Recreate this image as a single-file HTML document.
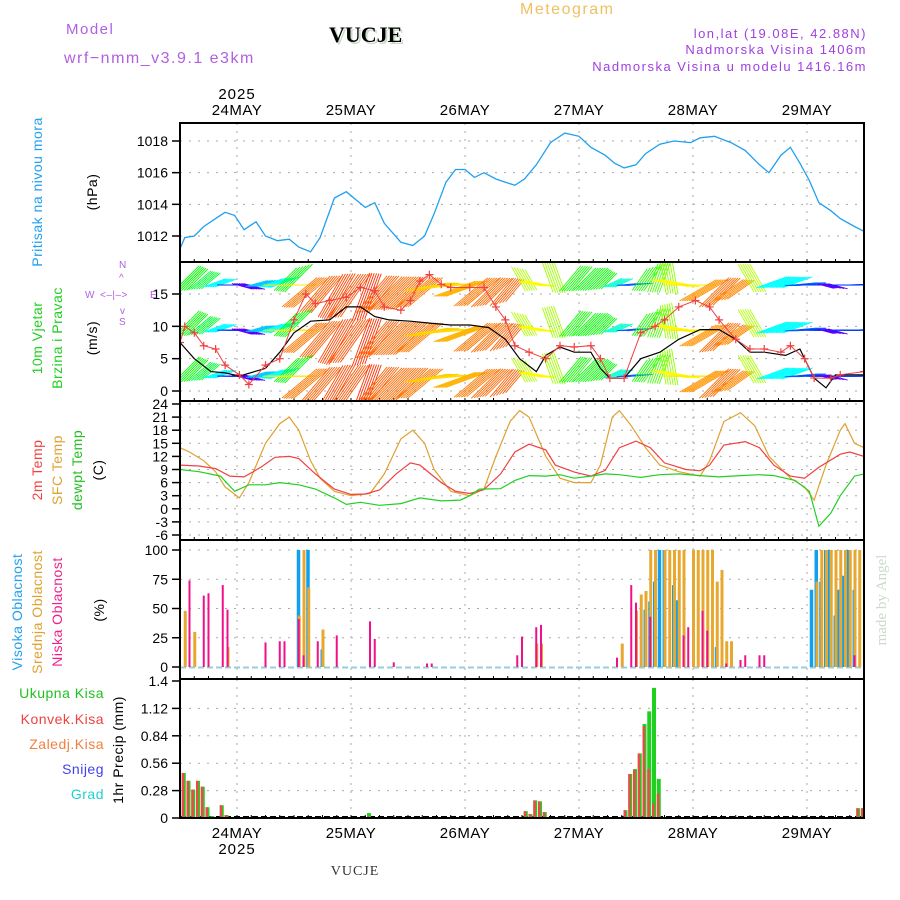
<!DOCTYPE html>
<html><head><meta charset="utf-8"><style>
html,body{margin:0;padding:0;background:#fff;}
svg{display:block;font-family:"Liberation Sans",sans-serif;}
</style></head><body>
<svg id="chart" width="900" height="900" viewBox="0 0 900 900" xmlns="http://www.w3.org/2000/svg">
<g font-size="15" letter-spacing="1.5">
<text x="66" y="34" fill="#b060e0">Model</text>
<text x="64" y="63" fill="#b060e0" font-size="16">wrf−nmm_v3.9.1 e3km</text>
<text x="331" y="44" font-family="Liberation Serif,serif" font-weight="bold" font-size="22" fill="#c8dcc8" letter-spacing="0">VUCJE</text>
<text x="329" y="42" font-family="Liberation Serif,serif" font-weight="bold" font-size="22" fill="#000" letter-spacing="0">VUCJE</text>
<text x="520" y="14" fill="#f0c060" font-size="16">Meteogram</text>
<text x="867" y="38" fill="#a040e0" text-anchor="end" font-size="13">lon,lat (19.08E, 42.88N)</text>
<text x="867" y="54" fill="#a040e0" text-anchor="end" font-size="13">Nadmorska Visina 1406m</text>
<text x="867" y="71" fill="#a040e0" text-anchor="end" font-size="13">Nadmorska Visina u modelu 1416.16m</text>
</g>
<g id="plots"></g>
<g font-size="14" letter-spacing="0.5">
<text transform="translate(42,192) rotate(-90)" text-anchor="middle" fill="#20a0f0">Pritisak na nivou mora</text>
<text transform="translate(97,192) rotate(-90)" text-anchor="middle" fill="#000">(hPa)</text>
<text transform="translate(42,338) rotate(-90)" text-anchor="middle" fill="#20d020">10m Vjetar</text>
<text transform="translate(62,338) rotate(-90)" text-anchor="middle" fill="#20d020">Brzina i Pravac</text>
<text transform="translate(97,338) rotate(-90)" text-anchor="middle" fill="#000">(m/s)</text>
<g fill="#b060e0" font-size="10">
<text x="119" y="268">N</text><text x="85" y="298">W</text><text x="150" y="298">E</text><text x="119" y="325">S</text>
<text x="100" y="298">&lt;–|–&gt;</text>
<text x="119" y="281">^</text><text x="120" y="314">v</text>
</g>
<text transform="translate(42,470) rotate(-90)" text-anchor="middle" fill="#f04040">2m Temp</text>
<text transform="translate(62,470) rotate(-90)" text-anchor="middle" fill="#e0a030">SFC Temp</text>
<text transform="translate(82,470) rotate(-90)" text-anchor="middle" fill="#20c020">dewpt Temp</text>
<text transform="translate(103,470) rotate(-90)" text-anchor="middle" fill="#000">(C)</text>
<text transform="translate(22,612) rotate(-90)" text-anchor="middle" fill="#20a0f0">Visoka Oblacnost</text>
<text transform="translate(42,612) rotate(-90)" text-anchor="middle" fill="#e0a030">Srednja Oblacnost</text>
<text transform="translate(62,612) rotate(-90)" text-anchor="middle" fill="#f0208a">Niska Oblacnost</text>
<text transform="translate(104,610) rotate(-90)" text-anchor="middle" fill="#000">(%)</text>
<text x="104" y="698" text-anchor="end" fill="#20c020">Ukupna Kisa</text>
<text x="104" y="724" text-anchor="end" fill="#f04040">Konvek.Kisa</text>
<text x="104" y="749" text-anchor="end" fill="#f08040">Zaledj.Kisa</text>
<text x="104" y="774" text-anchor="end" fill="#4040f0">Snijeg</text>
<text x="104" y="799" text-anchor="end" fill="#20d0d0">Grad</text>
<text transform="translate(123,750) rotate(-90)" text-anchor="middle" fill="#000">1hr Precip (mm)</text>
</g>
<text transform="translate(886,600) rotate(-90)" text-anchor="middle" font-family="Liberation Serif,serif" font-size="15" fill="#c8dcc8">made by Angel</text>
<text x="355" y="875" text-anchor="middle" font-family="Liberation Serif,serif" font-size="14" fill="#333" letter-spacing="1">VUCJE</text>
</svg>
<script>
const days = ["24MAY","25MAY","26MAY","27MAY","28MAY","29MAY"];
const dayHours = [12,36,60,84,108,132];
const pHours = [0,1,3,5,7.5,9.5,11.5,13.5,16,18,20.5,23,25,27.5,29.5,32.5,35,37,39,41,43,46.5,49,51.5,53.5,56,58,60,62,64,66.5,68.5,70.5,72.5,75,78,81,84,86.5,89.5,91.5,93.5,96,98,101,104,107.5,109.5,112.5,116,119,122,124,126.5,128.5,130.5,132.5,134.5,137,139,142,144];
const pVals = [1011.2,1011.9,1012.0,1012.6,1013.1,1013.5,1013.3,1012.4,1012.9,1012.0,1011.7,1011.8,1011.3,1011.0,1011.9,1014.4,1014.8,1014.3,1013.8,1014.1,1012.8,1011.6,1011.4,1012.0,1013.4,1015.4,1016.2,1016.2,1015.7,1016.0,1015.6,1015.4,1015.2,1015.6,1016.5,1017.9,1018.5,1018.3,1017.6,1017.1,1016.6,1016.3,1016.5,1017.2,1017.8,1018.0,1017.9,1018.2,1018.3,1017.9,1017.4,1016.5,1016.0,1017.1,1017.6,1016.6,1015.5,1014.1,1013.6,1013.1,1012.6,1012.3];
const pTicks = [1012,1014,1016,1018];
const gustHours = [0,1,3,5,7.5,9.5,12.5,14.5,18,21,24,26.5,28.5,31.5,35,38,41,43,46.5,48.5,50.5,52.5,55,57,61,64,66.5,68.5,70.5,73.5,77,80,83,86.5,88.5,90.5,93.5,97,100,102,105,108.5,111.5,113.5,117,120,123,126.5,128.5,131.5,133.5,137,139,144];
const gustVals = [7.5,10,9,7,6.5,4,2.5,1,4,5,11,15,13.5,14,14.5,16,15.5,13,12.5,14,17,18,16.5,16,16,16,13,11,7,6,5,7,6.8,7,5,2,2,9,10,11,13,14,13,11,8,6.5,6.5,6,7,5,2,2,2.5,3];
const wsHours = [0,3,6.5,9.5,12.5,18,21,24,27.5,31.5,35,38,41,44,48.5,52.5,57,61,65,68.5,71.5,75,77,80,83,86.5,88.5,90.5,93.5,97,101,105,109.5,113.5,117,120,123,127.5,130.5,133.5,136,138,141,144];
const wsVals = [7.5,5,3,2.8,2.3,3.5,6,9,10.8,11,13,13,11.5,11,10.8,10.5,10.2,10.2,9.8,8,5,3,5.5,6.8,6,6,3.5,2,2,5,6,8,9.5,9.5,8,6,6,5.5,6.5,2,0.5,2.5,2.5,2.5];
const wdHours = [0,3,6,9,12,15,18,21,24,27,30,33,36,39,42,45,48,51,54,57,60,63,66,69,72,75,78,81,84,87,90,93,96,99,102,105,108,111,114,117,120,123,126,129,132,135,138,141,144];
const wdVals = [225,230,250,270,285,255,250,225,90,50,40,30,35,20,40,45,45,50,80,85,70,50,45,40,150,100,160,220,225,225,245,265,215,200,170,100,90,60,45,55,150,250,250,265,270,285,270,268,270];
const windTicks = [0,5,10,15];
const tHours = [0,4,7.5,10.5,13.5,17,20,23,25,28.5,32.5,36,39,42,45.5,48.5,50.5,55,58,61,64,67.5,70.5,73.5,77,79,83,86.5,89.5,92.5,96,99,102,106.5,109.5,111.5,114.5,119,122,125,128.5,131.5,134.5,139,141,144];
const tVals = [10,9.8,9.2,7.5,7.3,9.5,11.8,12,11.5,8,4.5,3.3,3.4,4.3,8,10.5,10,6,4,3.5,4.4,8,13,14.8,13.5,10,8.4,7.5,8.8,14,15.5,14,10.5,9,8.7,10,14.6,15.4,14,10,7.5,7,9.5,12.5,13,12];
const sHours = [0,2,5,7.5,9.5,12.5,14.5,18,21,23,25,27.5,29.5,32.5,36,40,43,46.5,49,51.5,53.5,57,61,64,66.5,69.5,71.5,73.5,77,80,83,86.5,88.5,91,92.5,95,98,101,105,109.5,111.5,114.5,118,121,124,128.5,131.5,133.5,136,139,140,142,144];
const sVals = [14,13,11,8.5,5,2.5,6,15,19.5,21,18,11,7,4,3,3.5,8,16,18,15,9,4,3,4.5,12,20,22.5,21,12,7,6,6,10,21,22.5,19,14,10,8.5,7.5,11,20,22,19,12,7,5,2,10,18,19.5,15,14];
const dHours = [0,4,8.5,11.5,14.5,18,21,25,28.5,32.5,35,38,42,46.5,50.5,55,59,61,63,67.5,70.5,73.5,77,80,83,86.5,89.5,92.5,97,101,105,109.5,113.5,118,122,125,129.5,132.5,134.5,137,139,142,144];
const dVals = [9,8.5,7.5,4,5.5,5.5,6,5.5,4.5,2.5,1,1.5,0.8,1.2,2.5,1.8,2,3,4.5,4.6,6.5,7.6,7.5,7.8,7,7.5,8,7.8,7.2,7.8,8,7.6,7.3,7.6,7.8,7.6,6.5,4,-4,-1,3,7.5,8];
const tempTicks = [-6,-3,0,3,6,9,12,15,18,21,24];
const highHours = [25,27,30,98,99,100,101,102,104,104.5,105,113,133,134,135,136,136.5,138,138.5,139,139.5,140.5,141,142];
const highVals = [100,100,15,49,56,73,100,100,70,57,57,17,66,100,73,100,100,44,66,66,78,100,100,66];
const midHours = [1,3,10,25,26,27,30,75,76,93,96,97,98,99,100,102,103,104,105,106,108,109,110,111,112,113,114,115,116,134,135,136,137,138,139,140,141,142,143,144];
const midVals = [48,30,17,44,100,68,32,20,20,20,48,62,65,100,100,100,100,100,100,100,100,100,100,100,100,73,83,22,22,73,100,100,100,100,100,100,100,100,100,66];
const lowHours = [2,5,6,9,10,18,21,22,25,26,29,33,40,41,45,52,53,71,72,75,76,92,95,96,99,106,107,110,111,115,118,119,122,123,142];
const lowVals = [74,61,63,70,49,21,22,22,41,10,22,27,39,24,4,3,3,10,26,34,36,8,70,55,43,27,34,48,31,3,6,10,10,10,10];
const cloudTicks = [0,25,50,75,100];
const prHours = [1,2,3,4,5,6,7,9,10,40,41,72,73,74,75,76,77,94,95,96,97,98,99,100,101,143,144];
const prTotal = [0.46,0.38,0.29,0.38,0.32,0.11,0.02,0.13,0.03,0.05,0.01,0.01,0.07,0.04,0.18,0.17,0.06,0.08,0.45,0.5,0.66,0.96,1.09,1.33,0.4,0.1,0.1];
const prConv = [0.46,0.38,0.29,0.38,0.32,0.11,0.01,0.13,0.03,0.02,0,0.01,0.07,0.04,0.18,0.17,0.06,0.08,0.45,0.49,0.66,0.94,0.5,0.15,0.25,0.1,0.1];
const precipTicks = [0,0.28,0.56,0.84,1.12,1.4];

const NS='http://www.w3.org/2000/svg';
const root=document.getElementById('plots');
const X0=180,X1=864;
function xS(h){return X0+h*(X1-X0)/144;}
function mk(tag,attrs,parent){const e=document.createElementNS(NS,tag);for(const k in attrs)e.setAttribute(k,attrs[k]);(parent||root).appendChild(e);return e;}
function lin(d0,d1,r0,r1){return v=>r0+(v-d0)*(r1-r0)/(d1-d0);}
const panels=[
 {top:123,bot:262,y:lin(1012,1018,236,141),ticks:pTicks,fmt:v=>v,name:'pressure'},
 {top:262,bot:401,y:lin(0,15,391,294),ticks:windTicks,fmt:v=>v,name:'wind'},
 {top:401,bot:540,y:lin(-6,24,535,404),ticks:tempTicks,fmt:v=>v,name:'temperature'},
 {top:540,bot:679,y:lin(0,100,667,550),ticks:cloudTicks,fmt:v=>v,name:'cloud'},
 {top:679,bot:818,y:lin(0,1.4,818,681),ticks:precipTicks,fmt:v=>v,name:'precip'}];
panels.forEach((p,i)=>{
 const g=mk('g',{});
 
 
 p.g=g;
 const cid='clip'+i;
 const cp=mk('clipPath',{id:cid},g);mk('rect',{x:X0,y:p.top,width:X1-X0,height:p.bot-p.top},cp);
 dayHours.forEach(h=>{const l=mk('line',{x1:xS(h),x2:xS(h),y1:p.top,y2:p.bot,stroke:'#aaa','stroke-dasharray':'2,6'},g);
  });
 p.ticks.forEach(t=>{const yy=p.y(t);
  if(yy>p.top+2&&yy<p.bot-2){const l=mk('line',{x1:X0,x2:X1,y1:yy,y2:yy,stroke:'#aaa','stroke-dasharray':'2,7'},g);
   }
  mk('line',{x1:X0-8,x2:X0,y1:yy,y2:yy,stroke:'#000','stroke-width':1.5},g);
  const tx=mk('text',{x:X0-12,y:yy+5,'text-anchor':'end','font-size':14,fill:'#000'},g);
  tx.textContent=p.fmt(t);
  
  
 });
 for(let h=0;h<=144;h+=3){mk('line',{x1:xS(h),x2:xS(h),y1:p.bot,y2:p.bot-3,stroke:'#000'},g);}
 p.clip='url(#'+cid+')';
 p.layer=mk('g',{'clip-path':p.clip},g);
});
function line(p,hs,vs,color,name,w){
 const d=hs.map((h,i)=>(i?'L':'M')+xS(h).toFixed(1)+','+p.y(vs[i]).toFixed(1)).join('');
 const e=mk('path',{d:d,fill:'none',stroke:color,'stroke-width':w||1.2},p.layer);
 
 
 return e;
}
line(panels[0],pHours,pVals,'#1ea0f0','pressure-line',1.3);
const hueTab=[[0,0],[45,25],[90,55],[180,90],[225,120],[250,180],[270,230],[290,270],[330,310],[360,360]];
function hue(d){for(let i=1;i<hueTab.length;i++){if(d<=hueTab[i][0]){const a=hueTab[i-1],b=hueTab[i];return a[1]+(d-a[0])*(b[1]-a[1])/(b[0]-a[0]);}}return 0;}
function interp(hs,vs,h){for(let i=1;i<hs.length;i++){if(h<=hs[i]){const t=(h-hs[i-1])/(hs[i]-hs[i-1]);return vs[i-1]+t*(vs[i]-vs[i-1]);}}return vs[vs.length-1];}
const wp=panels[1];
const vecG=mk('g',{},wp.layer);


[16.4,9.4,2.3].forEach(base=>{
 wdHours.forEach((h,i)=>{
  for(let k=0;k<6;k++){
   const hh=h+k*0.5; if(hh>144)break;
   const dir=wdVals[i]*Math.PI/180;
   const L=14+interp(wsHours,wsVals,hh)*3;
   const x0=xS(hh),y0=wp.y(base);
   const sx=-Math.sin(dir),sy=Math.cos(dir);
   const v=mk('line',{x1:x0-sx*L*0.25,y1:y0-sy*L*0.25,x2:x0+sx*L*0.75,y2:y0+sy*L*0.75,stroke:'hsl('+hue(wdVals[i])+',100%,50%)','stroke-width':0.9},vecG);
   
   
  }
 });
});
line(wp,wsHours,wsVals,'#000','wind-speed-line',1.2);
line(wp,gustHours,gustVals,'#f04040','wind-gust-line',1);
gustHours.forEach((h,i)=>{const x=xS(h),y=wp.y(gustVals[i]);
 const m=mk('path',{d:`M${x-4},${y}L${x+4},${y}M${x},${y-4}L${x},${y+4}`,stroke:'#f04040','stroke-width':1.2},wp.layer);
 
 });
const tp=panels[2];
line(tp,sHours,sVals,'#e0a030','sfc-temp-line',1.2);
line(tp,tHours,tVals,'#f04040','temp-2m-line',1.2);
line(tp,dHours,dVals,'#20d020','dewpoint-line',1.2);
const cpn=panels[3];
function bars(p,hs,vs,color,w,off,name){hs.forEach((h,i)=>{const y=p.y(vs[i]);
 const r=mk('rect',{x:xS(h)+off,y:y,width:w,height:p.y(0)-y,fill:color},p.layer);
 
 });}
mk('line',{x1:X0,x2:X1,y1:cpn.y(0)+0.5,y2:cpn.y(0)+0.5,stroke:'#9cd','stroke-width':2,'stroke-dasharray':'6,3'},cpn.layer);
bars(cpn,highHours,highVals,'#10a0f0',3.5,-2,'high-cloud-bar');
bars(cpn,midHours,midVals,'#e8a830',3,-1,'mid-cloud-bar');
bars(cpn,lowHours,lowVals,'#f0108a',2,-1,'low-cloud-bar');
const pp=panels[4];
mk('line',{x1:X0,x2:X1,y1:817,y2:817,stroke:'#000','stroke-width':2,'stroke-dasharray':'6,3'},pp.layer);
bars(pp,prHours,prTotal,'#20d020',4,-3,'total-precip-bar');
bars(pp,prHours,prConv,'#f04848',2.5,-3,'convective-precip-bar');
panels.forEach(p=>{const r=mk('rect',{x:X0,y:p.top,width:X1-X0,height:p.bot-p.top,fill:'none',stroke:'#000','stroke-width':2},p.g);
 
 });
const t25=mk('text',{x:xS(12),y:99,'text-anchor':'middle','font-size':15,'letter-spacing':1});
t25.textContent='2025';


days.forEach((d,i)=>{
 const a=mk('text',{x:xS(dayHours[i]),y:115,'text-anchor':'middle','font-size':15,'letter-spacing':0.5});a.textContent=d;
 
 
 const b=mk('text',{x:xS(dayHours[i]),y:838,'text-anchor':'middle','font-size':15,'letter-spacing':0.5});b.textContent=d;
 
 
});
const b25=mk('text',{x:xS(12),y:854,'text-anchor':'middle','font-size':15,'letter-spacing':1});
b25.textContent='2025';


</script>
</body></html>
